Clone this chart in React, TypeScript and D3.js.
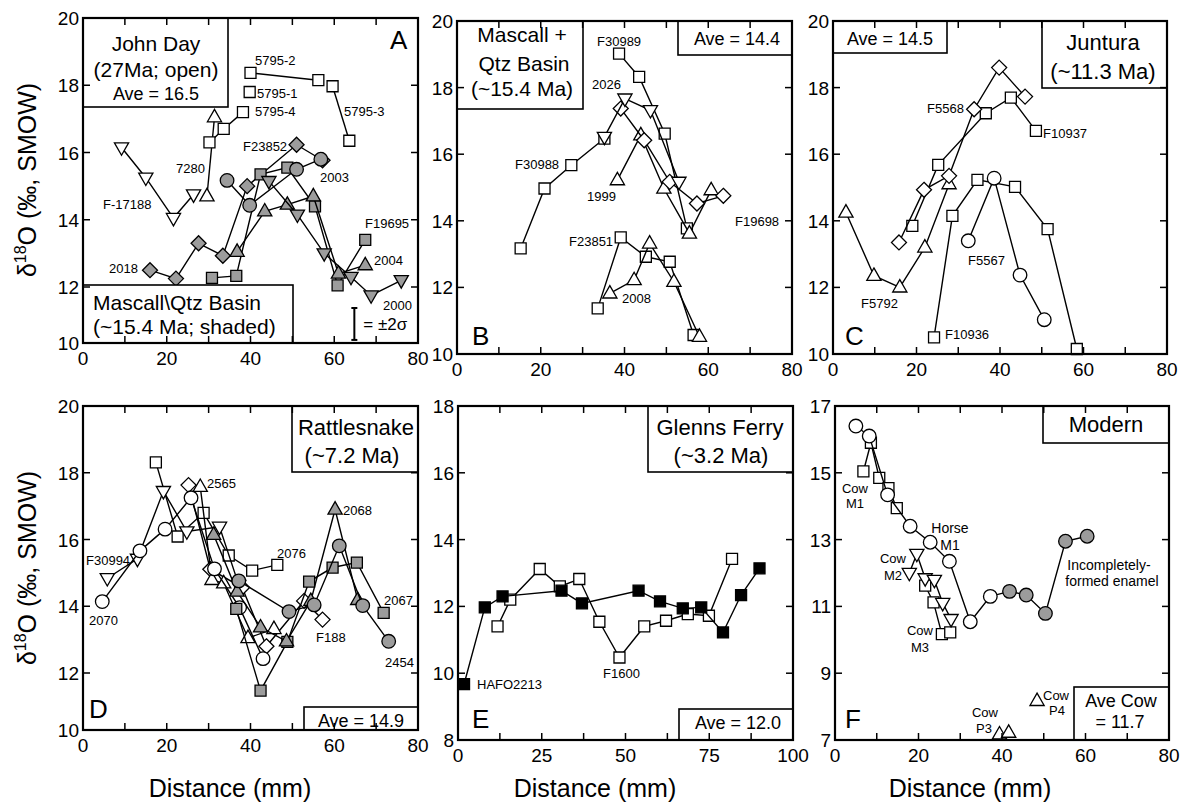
import React from 'react';
import * as d3 from 'd3';

type Pt = [number, number];
type Marker = 'square' | 'circle' | 'up' | 'down' | 'diamond';

// ---------------- Panel A: John Day (open) + Mascall\Qtz Basin (shaded)
const jdF17188: Pt[] = [[9.2, 16.15], [15.0, 15.25], [21.6, 14.05], [26.4, 14.75]];
const jd7280: Pt[] = [[29.6, 14.7], [31.4, 17.05]];
const jd5795_4: Pt[] = [[30.2, 16.3], [33.6, 16.7], [38.2, 17.2]];
const jd5795_1: Pt[] = [[39.8, 17.8]];
const jd5795_2: Pt[] = [[40.0, 18.37], [56.2, 18.15]];
const jd5795_3: Pt[] = [[59.6, 17.97], [63.6, 16.35]];
const mq2018: Pt[] = [[16.0, 12.5], [22.2, 12.25], [27.6, 13.3], [33.4, 12.93], [39.2, 15.0], [51.0, 16.23], [57.2, 15.77]];
const mq2003: Pt[] = [[34.4, 15.17], [39.8, 14.43], [51.0, 15.5], [56.8, 15.8]];
const mqF19695: Pt[] = [[30.8, 12.27], [36.6, 12.33], [42.4, 15.35], [48.8, 15.55], [55.4, 14.4], [60.8, 12.05], [67.4, 13.4]];
const mq2004: Pt[] = [[36.8, 13.05], [43.4, 14.25], [48.8, 14.45], [55.0, 14.7], [61.0, 12.4], [67.4, 12.65]];
const mq2000: Pt[] = [[44.4, 15.15], [51.2, 14.15], [57.6, 13.0], [64.0, 12.3], [68.8, 11.7], [76.0, 12.2]];
const errBarA = { x: 64.8, y: 10.68, half: 0.57 };

// ---------------- Panel B: Mascall + Qtz Basin
const bF30988: Pt[] = [[15.2, 13.17], [20.9, 14.97], [27.3, 15.67], [35.2, 16.47]];
const bF30989: Pt[] = [[38.7, 19.02], [43.5, 18.32], [49.6, 16.62], [54.9, 13.77]];
const b2026: Pt[] = [[35.2, 16.52], [40.1, 17.67], [46.2, 17.32], [53.0, 15.17]];
const b1999: Pt[] = [[38.3, 15.22], [43.9, 16.57], [49.4, 14.97], [55.5, 13.62], [60.7, 14.92]];
const bF19698: Pt[] = [[39.1, 17.37], [44.7, 16.42], [50.8, 15.17], [57.3, 14.52], [63.6, 14.75]];
const bF23851: Pt[] = [[33.6, 11.37], [39.1, 13.5], [45.1, 12.92], [50.8, 12.77], [56.5, 10.57]];
const b2008: Pt[] = [[36.5, 11.82], [42.3, 12.22], [46.0, 13.32], [51.8, 12.17], [57.9, 10.52]];

// ---------------- Panel C: Juntura
const cF5792: Pt[] = [[3.1, 14.25], [9.8, 12.35], [16.0, 12.0], [22.0, 13.2], [27.8, 15.1]];
const cF5568: Pt[] = [[15.8, 13.35], [21.8, 14.93], [27.8, 15.35], [33.8, 17.35], [39.8, 18.6], [46.0, 17.73]];
const cF10937: Pt[] = [[19.0, 13.85], [25.2, 15.68], [36.6, 17.23], [42.6, 17.7], [48.6, 16.7]];
const cF10936: Pt[] = [[24.2, 10.5], [28.6, 14.15], [34.6, 15.23], [43.6, 15.02], [51.4, 13.75], [58.4, 10.15]];
const cF5567: Pt[] = [[32.4, 13.4], [38.6, 15.28], [44.8, 12.37], [50.6, 11.03]];

// ---------------- Panel D: Rattlesnake
const d2070: Pt[] = [[4.6, 14.14], [13.6, 15.66], [19.6, 16.31], [25.8, 17.25], [31.4, 15.12], [37.4, 13.96], [43.0, 12.43]];
const dF30994: Pt[] = [[5.8, 14.84], [13.0, 15.42], [19.2, 17.45], [24.8, 16.24], [32.6, 16.38], [37.2, 14.64]];
const d2565: Pt[] = [[28.0, 17.58], [30.8, 14.79], [33.6, 14.69], [39.4, 13.05], [45.6, 13.32]];
const dF188: Pt[] = [[25.2, 17.63], [30.4, 15.11], [38.0, 14.56], [43.8, 12.8], [52.8, 14.16], [57.2, 13.6]];
const d2076: Pt[] = [[17.4, 18.31], [22.6, 16.09], [28.8, 16.8], [34.8, 15.52], [40.4, 15.07], [46.4, 15.24]];
const d2068: Pt[] = [[31.2, 16.14], [36.8, 14.44], [42.4, 13.37], [48.6, 12.95], [54.4, 14.16], [60.2, 16.9], [65.6, 14.19]];
const d2067: Pt[] = [[36.6, 13.92], [42.4, 11.38], [48.8, 12.93], [54.0, 14.74], [59.6, 15.16], [65.4, 15.31], [71.8, 13.8]];
const d2454: Pt[] = [[37.2, 14.76], [49.2, 13.84], [55.2, 14.04], [61.2, 15.81], [66.8, 14.02], [73.0, 12.95]];

// ---------------- Panel E: Glenns Ferry
const eHAFO2213: Pt[] = [[1.8, 9.67], [8.0, 11.97], [13.3, 12.3], [30.9, 12.47], [37.0, 12.09], [53.9, 12.47], [60.3, 12.15], [67.1, 11.94], [72.6, 11.97], [79.1, 11.22], [84.5, 12.34], [90.0, 13.14]];
const eF1600: Pt[] = [[11.8, 11.4], [15.6, 12.2], [24.4, 13.12], [30.4, 12.6], [36.2, 12.82], [42.2, 11.54], [48.2, 10.47], [55.6, 11.4], [62.1, 11.57], [68.6, 11.77], [74.9, 11.72], [81.8, 13.42]];

// ---------------- Panel F: Modern
const fHorseM1: Pt[] = [[5.0, 16.4], [8.2, 16.1], [12.6, 14.34], [18.0, 13.4], [22.8, 12.92], [27.4, 12.35], [32.4, 10.54], [37.2, 11.3]];
const fHorseM1Incomplete: Pt[] = [[41.8, 11.45], [45.8, 11.34], [50.4, 10.79], [55.2, 12.95], [60.4, 13.1]];
const fCowM1: Pt[] = [[6.8, 15.04], [8.6, 15.9], [10.6, 14.85], [12.8, 14.54], [14.8, 13.94]];
const fCowM2: Pt[] = [[17.8, 12.0], [19.6, 12.57], [21.6, 11.84], [23.8, 11.79], [25.8, 11.1], [27.8, 10.62]];
const fCowM3: Pt[] = [[21.6, 11.62], [23.6, 11.12], [25.6, 10.17], [27.6, 10.22]];
const fCowP3: Pt[] = [[39.4, 7.17], [41.6, 7.22]];
const fCowP4: Pt[] = [[48.4, 8.17]];

// ---------------- styles
const FONT = "'Liberation Sans', Arial, Helvetica, sans-serif";
const GRAY = '#9c9c9c';
const W = '#ffffff';
const K = '#000000';

type Series = { data: Pt[]; marker?: Marker; fill?: string; line?: boolean };
type Box = { x: number; y: number; w: number; h: number; lines: { t: string; x: number; y: number; s: number; a: 'start' | 'middle' | 'end' }[] };
type Label = [string, number, number, ('start' | 'middle')?, number?];

interface PanelCfg {
  letter: string; letterPos: [number, number];
  left: number; right: number; top: number; bottom: number;
  xDomain: [number, number]; xStep: number; xLabels: number[];
  yKnots: number[]; yPix: number[]; yLabels: number[];
  series: Series[]; boxes: Box[]; labels: Label[];
  err?: { x: number; y: number; half: number };
}

const panels: PanelCfg[] = [
  {
    letter: 'A', letterPos: [390, 49], left: 83, right: 418, top: 18, bottom: 343,
    xDomain: [0, 80], xStep: 10, xLabels: [0, 20, 40, 60, 80],
    yKnots: [10, 12, 20], yPix: [343, 287, 18], yLabels: [10, 12, 14, 16, 18, 20],
    series: [
      { data: jdF17188, marker: 'down', fill: W },
      { data: jd7280, marker: 'up', fill: W },
      { data: jd5795_4, marker: 'square', fill: W },
      { data: jd5795_1, marker: 'square', fill: W },
      { data: jd5795_2, marker: 'square', fill: W },
      { data: jd5795_3, marker: 'square', fill: W },
      { data: mq2018, marker: 'diamond', fill: GRAY },
      { data: mqF19695, marker: 'square', fill: GRAY },
      { data: mq2004, marker: 'up', fill: GRAY },
      { data: mq2003, marker: 'circle', fill: GRAY },
      { data: mq2000, marker: 'down', fill: GRAY },
    ],
    boxes: [
      { x: 83, y: 18, w: 145, h: 89, lines: [
        { t: 'John Day', x: 156, y: 51, s: 21, a: 'middle' },
        { t: '(27Ma; open)', x: 156, y: 77, s: 21, a: 'middle' },
        { t: 'Ave = 16.5', x: 156, y: 100, s: 18, a: 'middle' }] },
      { x: 83, y: 285, w: 210, h: 58, lines: [
        { t: 'Mascall\\Qtz Basin', x: 93, y: 310, s: 21, a: 'start' },
        { t: '(~15.4 Ma; shaded)', x: 93, y: 334, s: 21, a: 'start' }] },
    ],
    labels: [
      ['5795-2', 255, 65], ['5795-1', 257, 98], ['5795-4', 255, 116], ['5795-3', 344, 116],
      ['7280', 176, 173], ['F-17188', 103, 209], ['F23852', 243, 151], ['2003', 320, 182],
      ['2018', 109, 273], ['F19695', 365, 228], ['2004', 374, 265], ['2000', 383, 310],
    ],
    err: errBarA,
  },
  {
    letter: 'B', letterPos: [472, 345], left: 457, right: 792, top: 21, bottom: 354,
    xDomain: [0, 80], xStep: 10, xLabels: [0, 20, 40, 60, 80],
    yKnots: [10, 20], yPix: [354, 21], yLabels: [10, 12, 14, 16, 18, 20],
    series: [
      { data: bF30988, marker: 'square', fill: W },
      { data: bF30989, marker: 'square', fill: W },
      { data: b1999, marker: 'up', fill: W },
      { data: bF19698, marker: 'diamond', fill: W },
      { data: b2026, marker: 'down', fill: W },
      { data: bF23851, marker: 'square', fill: W },
      { data: b2008, marker: 'up', fill: W },
    ],
    boxes: [
      { x: 457, y: 21, w: 126, h: 88, lines: [
        { t: 'Mascall +', x: 522, y: 42, s: 21, a: 'middle' },
        { t: 'Qtz Basin', x: 524, y: 71, s: 21, a: 'middle' },
        { t: '(~15.4 Ma)', x: 522, y: 96, s: 21, a: 'middle' }] },
      { x: 678, y: 21, w: 114, h: 34, lines: [
        { t: 'Ave = 14.4', x: 737, y: 45, s: 18, a: 'middle' }] },
    ],
    labels: [
      ['F30989', 597, 46], ['2026', 592, 89], ['F30988', 515, 169], ['1999', 587, 201],
      ['F19698', 735, 226], ['F23851', 569, 246], ['2008', 622, 303],
    ],
  },
  {
    letter: 'C', letterPos: [845, 345], left: 833, right: 1167, top: 21, bottom: 354,
    xDomain: [0, 80], xStep: 10, xLabels: [0, 20, 40, 60, 80],
    yKnots: [10, 20], yPix: [354, 21], yLabels: [10, 12, 14, 16, 18, 20],
    series: [
      { data: cF5792, marker: 'up', fill: W },
      { data: cF10937, marker: 'square', fill: W },
      { data: cF5568, marker: 'diamond', fill: W },
      { data: cF10936, marker: 'square', fill: W },
      { data: cF5567, marker: 'circle', fill: W },
    ],
    boxes: [
      { x: 833, y: 21, w: 114, h: 32, lines: [{ t: 'Ave = 14.5', x: 890, y: 45, s: 18, a: 'middle' }] },
      { x: 1042, y: 21, w: 125, h: 67, lines: [
        { t: 'Juntura', x: 1103, y: 50, s: 22, a: 'middle' },
        { t: '(~11.3 Ma)', x: 1103, y: 79, s: 22, a: 'middle' }] },
    ],
    labels: [
      ['F5568', 927, 113], ['F10937', 1043, 138], ['F5567', 968, 265], ['F5792', 861, 308], ['F10936', 945, 339],
    ],
  },
  {
    letter: 'D', letterPos: [89, 718], left: 83, right: 418, top: 406, bottom: 730,
    xDomain: [0, 80], xStep: 10, xLabels: [0, 20, 40, 60, 80],
    yKnots: [10, 12, 20], yPix: [730, 673, 406], yLabels: [10, 12, 14, 16, 18, 20],
    series: [
      { data: d2076, marker: 'square', fill: W },
      { data: dF30994, marker: 'down', fill: W },
      { data: dF188, marker: 'diamond', fill: W },
      { data: d2565, marker: 'up', fill: W },
      { data: d2070, marker: 'circle', fill: W },
      { data: d2067, marker: 'square', fill: GRAY },
      { data: d2068, marker: 'up', fill: GRAY },
      { data: d2454, marker: 'circle', fill: GRAY },
    ],
    boxes: [
      { x: 292, y: 406, w: 126, h: 66, lines: [
        { t: 'Rattlesnake', x: 356, y: 435, s: 22, a: 'middle' },
        { t: '(~7.2 Ma)', x: 352, y: 463, s: 22, a: 'middle' }] },
      { x: 304, y: 707, w: 114, h: 23, lines: [{ t: 'Ave = 14.9', x: 361, y: 727, s: 18, a: 'middle' }] },
    ],
    labels: [
      ['2565', 207, 488], ['2068', 343, 515], ['2076', 277, 558], ['F30994', 86, 565],
      ['2070', 89, 625], ['F188', 316, 642], ['2067', 384, 605], ['2454', 385, 667],
    ],
  },
  {
    letter: 'E', letterPos: [472, 728], left: 458, right: 793, top: 406, bottom: 740,
    xDomain: [0, 100], xStep: 12.5, xLabels: [0, 25, 50, 75, 100],
    yKnots: [8, 18], yPix: [740, 406], yLabels: [8, 10, 12, 14, 16, 18],
    series: [
      { data: eF1600, marker: 'square', fill: W },
      { data: eHAFO2213, marker: 'square', fill: K },
    ],
    boxes: [
      { x: 648, y: 406, w: 145, h: 66, lines: [
        { t: 'Glenns Ferry', x: 720, y: 435, s: 22, a: 'middle' },
        { t: '(~3.2 Ma)', x: 721, y: 463, s: 22, a: 'middle' }] },
      { x: 679, y: 709, w: 114, h: 31, lines: [{ t: 'Ave = 12.0', x: 738, y: 729, s: 18, a: 'middle' }] },
    ],
    labels: [['HAFO2213', 477, 689], ['F1600', 603, 678]],
  },
  {
    letter: 'F', letterPos: [845, 728], left: 835, right: 1169, top: 406, bottom: 740,
    xDomain: [0, 80], xStep: 10, xLabels: [0, 20, 40, 60, 80],
    yKnots: [7, 17], yPix: [740, 406], yLabels: [7, 9, 11, 13, 15, 17],
    series: [
      { data: fCowM1, marker: 'square', fill: W },
      { data: [...fHorseM1, ...fHorseM1Incomplete] },
      { data: fHorseM1, marker: 'circle', fill: W, line: false },
      { data: fHorseM1Incomplete, marker: 'circle', fill: GRAY, line: false },
      { data: fCowM3, marker: 'square', fill: W },
      { data: fCowM2, marker: 'down', fill: W },
      { data: fCowP3, marker: 'up', fill: W, line: false },
      { data: fCowP4, marker: 'up', fill: W, line: false },
    ],
    boxes: [
      { x: 1043, y: 406, w: 126, h: 37, lines: [{ t: 'Modern', x: 1106, y: 432, s: 22, a: 'middle' }] },
      { x: 1074, y: 687, w: 95, h: 53, lines: [
        { t: 'Ave Cow', x: 1121, y: 707, s: 18, a: 'middle' },
        { t: '= 11.7', x: 1120, y: 728, s: 18, a: 'middle' }] },
    ],
    labels: [
      ['Cow', 855, 493, 'middle', 13], ['M1', 855, 508, 'middle', 13],
      ['Horse', 950, 533, 'middle', 14], ['M1', 950, 550, 'middle', 14],
      ['Cow', 893, 563, 'middle', 13], ['M2', 893, 580, 'middle', 13],
      ['Cow', 920, 635, 'middle', 13], ['M3', 920, 652, 'middle', 13],
      ['Incompletely-', 1109, 570, 'middle', 14], ['formed enamel', 1112, 586, 'middle', 14],
      ['Cow', 985, 717, 'middle', 13], ['P3', 984, 733, 'middle', 13],
      ['Cow', 1043, 700, 'start', 13], ['P4', 1049, 715, 'start', 13],
    ],
  },
];

function markerPath(m: Marker): string {
  switch (m) {
    case 'square': return 'M-5.5,-5.5H5.5V5.5H-5.5Z';
    case 'up': return 'M0,-7.8L7.1,4.6L-7.1,4.6Z';
    case 'down': return 'M0,7.8L7.1,-4.6L-7.1,-4.6Z';
    case 'diamond': return 'M0,-7.5L7.5,0L0,7.5L-7.5,0Z';
    default: return '';
  }
}

function PanelView({ p }: { p: PanelCfg }) {
  const x = d3.scaleLinear().domain(p.xDomain).range([p.left, p.right]);
  const y = d3.scaleLinear().domain(p.yKnots).range(p.yPix);
  const line = d3.line<Pt>().x(d => x(d[0])).y(d => y(d[1]));
  const xt = d3.range(p.xDomain[0], p.xDomain[1] + 1e-9, p.xStep);
  const yMin = p.yKnots[0];
  const yMax = p.yKnots[p.yKnots.length - 1];
  const yt = d3.range(yMin, yMax + 1e-9, 2);
  const TL = 7;
  return (
    <g>
      {p.series.map((s, i) => (
        <g key={i}>
          {s.line !== false && s.data.length > 1 && (
            <path d={line(s.data) || ''} fill="none" stroke="#000" strokeWidth={1.4} />
          )}
          {s.marker && s.data.map((d, j) =>
            s.marker === 'circle' ? (
              <circle key={j} cx={x(d[0])} cy={y(d[1])} r={6.8} fill={s.fill} stroke="#000" strokeWidth={1.3} />
            ) : (
              <path key={j} transform={`translate(${x(d[0])},${y(d[1])})`} d={markerPath(s.marker!)} fill={s.fill} stroke="#000" strokeWidth={1.3} />
            )
          )}
        </g>
      ))}
      {p.err && (
        <g stroke="#000" strokeWidth={2}>
          <line x1={x(p.err.x)} x2={x(p.err.x)} y1={y(p.err.y - p.err.half)} y2={y(p.err.y + p.err.half)} />
          <line x1={x(p.err.x) - 3} x2={x(p.err.x) + 3} y1={y(p.err.y - p.err.half)} y2={y(p.err.y - p.err.half)} />
          <line x1={x(p.err.x) - 3} x2={x(p.err.x) + 3} y1={y(p.err.y + p.err.half)} y2={y(p.err.y + p.err.half)} />
        </g>
      )}
      {p.err && (
        <text x={x(p.err.x) + 9} y={y(p.err.y) + 6} fontSize={17} fontFamily={FONT}>= ±2σ</text>
      )}
      {p.labels.map(([t, lx, ly, a, s], i) => (
        <text key={i} x={lx} y={ly} fontSize={s || 13} textAnchor={a || 'start'} fontFamily={FONT}>{t}</text>
      ))}
      {p.boxes.map((b, i) => (
        <g key={i}>
          <rect x={b.x} y={b.y} width={b.w} height={b.h} fill="#fff" stroke="#000" strokeWidth={1.6} />
          {b.lines.map((l, j) => (
            <text key={j} x={l.x} y={l.y} fontSize={l.s} textAnchor={l.a} fontFamily={FONT}>{l.t}</text>
          ))}
        </g>
      ))}
      <text x={p.letterPos[0]} y={p.letterPos[1]} fontSize={26} fontFamily={FONT}>{p.letter}</text>
      <g stroke="#000" strokeWidth={1.5}>
        {xt.map((v, i) => (
          <g key={'x' + i}>
            <line x1={x(v)} x2={x(v)} y1={p.bottom} y2={p.bottom - TL} />
            <line x1={x(v)} x2={x(v)} y1={p.top} y2={p.top + TL} />
          </g>
        ))}
        {yt.map((v, i) => (
          <g key={'y' + i}>
            <line x1={p.left} x2={p.left + TL} y1={y(v)} y2={y(v)} />
            <line x1={p.right} x2={p.right - TL} y1={y(v)} y2={y(v)} />
          </g>
        ))}
      </g>
      <rect x={p.left} y={p.top} width={p.right - p.left} height={p.bottom - p.top} fill="none" stroke="#000" strokeWidth={2.2} />
      {p.xLabels.map((v, i) => (
        <text key={'xl' + i} x={x(v)} y={p.bottom + 22} fontSize={19} textAnchor="middle" fontFamily={FONT}>{v}</text>
      ))}
      {p.yLabels.map((v, i) => (
        <text key={'yl' + i} x={p.left - 4} y={y(v) + 7} fontSize={19} textAnchor="end" fontFamily={FONT}>{v}</text>
      ))}
    </g>
  );
}

function YTitle({ cy }: { cy: number }) {
  return (
    <text transform={`translate(36,${cy}) rotate(-90)`} textAnchor="middle" fontSize={25} fontFamily={FONT}>
      δ<tspan fontSize={16} dy={-10}>18</tspan><tspan dy={10}>O (‰, SMOW)</tspan>
    </text>
  );
}

export default function App() {
  return (
    <svg width={1192} height={809} style={{ position: 'absolute', left: 0, top: 0, background: '#fff' }}>
      <rect x={0} y={0} width={1192} height={809} fill="#fff" />
      {panels.map((p, i) => <PanelView key={i} p={p} />)}
      <YTitle cy={180} />
      <YTitle cy={568} />
      {[230, 595, 970].map((cx, i) => (
        <text key={i} x={cx} y={797} fontSize={25} textAnchor="middle" fontFamily={FONT}>Distance (mm)</text>
      ))}
    </svg>
  );
}
